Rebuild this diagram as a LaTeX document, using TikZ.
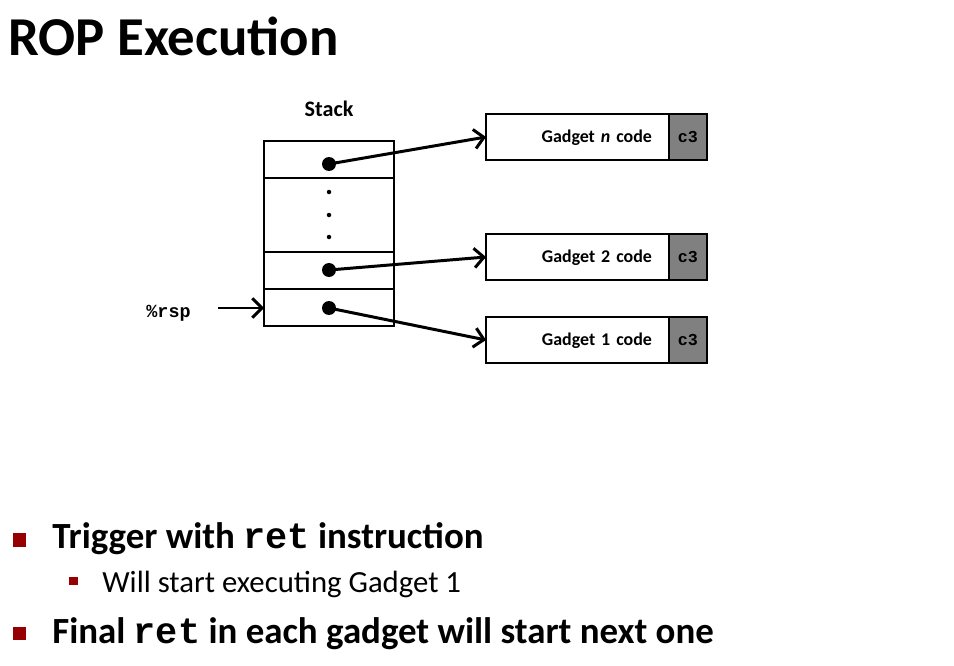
\documentclass[tikz,border=0pt]{standalone}
\usepackage{fontspec}
\setmainfont{Carlito}
\setmonofont{Liberation Mono}
\usetikzlibrary{arrows.meta, positioning}
\definecolor{bulletred}{RGB}{150,0,0}
\definecolor{retgray}{RGB}{128,128,128}

\begin{document}
\begin{tikzpicture}[x=0.02cm, y=-0.02cm,
  cell/.style={draw, line width=1pt, minimum width=2.6cm, minimum height=0.74cm,
               inner sep=0pt, outer sep=0pt},
  gadget/.style={draw, line width=1pt, minimum width=3.66cm, minimum height=0.92cm,
                 text width=2.98cm, inner xsep=0.34cm, outer sep=0pt, align=right,
                 text height=0.64em, text depth=0pt,
                 font=\bfseries\fontsize{10.2}{12}\selectfont},
  retcell/.style={draw, fill=retgray, line width=1pt, minimum width=0.76cm,
                  minimum height=0.92cm, inner sep=0pt, outer sep=0pt,
                  font=\ttfamily\bfseries\fontsize{9.5}{11}\selectfont},
  ptrdot/.style={circle, fill=black, minimum size=0.28cm, inner sep=0pt},
  ptr/.style={line width=1.7pt, -{Straight Barb[length=5.5pt, width=11pt, line width=1.7pt]}},
  bigsq/.style={fill=bulletred, minimum size=0.27cm, inner sep=0pt},
  smallsq/.style={fill=bulletred, minimum size=0.17cm, inner sep=0pt},
  txt/.style={anchor=base west, inner sep=0pt}]
  \useasboundingbox (0,0) rectangle (954,666);

  % title
  \node[txt, font=\bfseries\fontsize{31.2}{37}\selectfont] (title) at (8,55) {ROP Execution};

  % stack
  \node[font=\bfseries\fontsize{12.6}{15}\selectfont, anchor=base, inner sep=0pt] (stacklbl) at (329,116) {Stack};
  \node[cell] (sn) at (329,159.5) {};
  \node[cell, minimum height=1.48cm, below=0pt of sn] (sdots) {};
  \node[cell, below=0pt of sdots] (s2) {};
  \node[cell, below=0pt of s2] (s1) {};
  \foreach \y in {192,215,237}{
    \fill (329,\y) circle (0.045cm);
  }

  % gadgets
  \node[gadget] (gn) at (577.5,137) {Gadget \textit{n} code};
  \node[retcell, right=0pt of gn] (rn) {c3};
  \node[gadget] (g2) at (577.5,257) {Gadget 2 code};
  \node[retcell, right=0pt of g2] (r2) {c3};
  \node[gadget] (g1) at (577.5,340) {Gadget 1 code};
  \node[retcell, right=0pt of g1] (r1) {c3};

  % pointers
  \node[ptrdot] (dn) at (329,164) {};
  \node[ptrdot] (d2) at (329,270) {};
  \node[ptrdot] (d1) at (329,308) {};
  \draw[ptr] (dn.center) -- (gn.west);
  \draw[ptr] (d2.center) -- (g2.west);
  \draw[ptr] (d1.center) -- (g1.west);

  % stack pointer
  \node[font=\ttfamily\bfseries\fontsize{10.5}{12}\selectfont, anchor=east, inner sep=0pt] (rsp) at (191,313) {\%rsp};
  \coordinate (rspend) at (218,308);
  \draw[ptr] (rspend) -- (s1.west |- rspend);

  % bullets
  \node[bigsq] (b1) at (19.5,540) {};
  \node[txt, font=\bfseries\fontsize{21}{25}\selectfont] (t1) at (52,548)
    {Trigger with \texttt{ret} instruction};
  \node[smallsq] (b2) at (73.5,581) {};
  \node[txt, font=\fontsize{17.5}{21}\selectfont] (t2) at (102,592)
    {Will start executing Gadget 1};
  \node[bigsq] (b3) at (19.5,633.5) {};
  \node[txt, font=\bfseries\fontsize{21}{25}\selectfont] (t3) at (52,643.5)
    {Final \texttt{ret} in each gadget will start next one};
\end{tikzpicture}
\end{document}
